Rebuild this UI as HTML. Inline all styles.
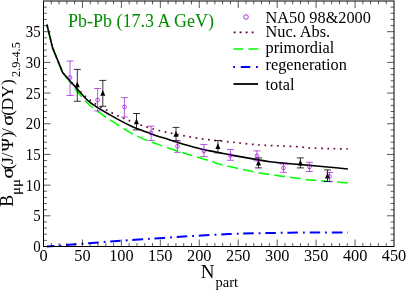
<!DOCTYPE html>
<html><head><meta charset="utf-8"><title>plot</title>
<style>
html,body{margin:0;padding:0;background:#fff;}
body{width:407px;height:291px;overflow:hidden;}
svg{display:block;will-change:transform;}
text{font-family:"Liberation Serif",serif;fill:#000;}
</style></head><body>
<svg width="407" height="291" viewBox="0 0 407 291">
<rect x="0" y="0" width="407" height="291" fill="#fff"/>

<g fill="none" stroke-linejoin="round">
<path d="M46.90,24.50 L52.60,47.90 L62.80,72.70 C63.65,73.65 65.52,75.82 67.90,78.40 C70.28,80.98 73.42,84.55 77.10,88.20 C80.78,91.85 84.52,96.35 90.00,100.30 C95.48,104.25 103.35,108.47 110.00,111.90 C116.65,115.33 123.25,118.22 129.90,120.90 C136.55,123.58 143.22,125.98 149.90,128.00 C156.58,130.02 163.33,131.52 170.00,133.00 C176.67,134.48 183.25,135.75 189.90,136.90 C196.55,138.05 203.25,139.07 209.90,139.90 C216.55,140.73 224.78,141.38 229.80,141.90 C234.82,142.42 234.98,142.48 240.00,143.00 C245.02,143.52 253.25,144.52 259.90,145.00 C266.55,145.48 273.25,145.58 279.90,145.90 C286.55,146.22 294.78,146.55 299.80,146.90 C304.82,147.25 304.98,147.72 310.00,148.00 C315.02,148.28 323.58,148.43 329.90,148.60 C336.22,148.77 344.90,148.93 347.90,149.00" stroke="#670748" stroke-width="1.7" stroke-dasharray="1.7 4.6" stroke-dashoffset="5.3"/>
<path d="M46.90,24.50 L52.50,48.00 L62.50,73.00 C63.37,74.03 65.28,76.17 67.70,79.20 C70.12,82.23 73.28,86.82 77.00,91.20 C80.72,95.58 84.50,100.72 90.00,105.50 C95.50,110.28 103.35,115.43 110.00,119.90 C116.65,124.37 125.08,129.47 129.90,132.30 C134.72,135.13 135.55,135.37 138.90,136.90 C142.25,138.43 144.82,139.57 150.00,141.50 C155.18,143.43 163.35,146.27 170.00,148.50 C176.65,150.73 183.25,152.83 189.90,154.90 C196.55,156.97 204.88,159.33 209.90,160.90 C214.92,162.47 214.98,162.97 220.00,164.30 C225.02,165.63 233.35,167.47 240.00,168.90 C246.65,170.33 253.25,171.73 259.90,172.90 C266.55,174.07 274.88,175.18 279.90,175.90 C284.92,176.62 286.65,176.75 290.00,177.20 C293.35,177.65 296.67,178.15 300.00,178.60 C303.33,179.05 305.02,179.42 310.00,179.90 C314.98,180.38 323.58,181.00 329.90,181.50 C336.22,182.00 344.90,182.67 347.90,182.90" stroke="#00ff00" stroke-width="1.55" stroke-dasharray="10.85 5.0" stroke-dashoffset="8.3"/>
<path d="M46.90,246.50 L75.00,244.30 L110.00,241.50 C116.67,241.05 136.67,239.68 150.00,238.80 C163.33,237.92 176.83,236.98 190.00,236.20 C203.17,235.42 217.33,234.60 229.00,234.10 C240.67,233.60 250.00,233.43 260.00,233.20 C270.00,232.97 279.00,232.82 289.00,232.70 C299.00,232.58 310.17,232.55 320.00,232.50 C329.83,232.45 343.33,232.42 348.00,232.40" stroke="#0000ff" stroke-width="2" stroke-dasharray="10.6 5 1.8 4.78" stroke-dashoffset="3"/>
<path d="M46.90,24.50 L52.60,47.90 L62.80,72.70 C63.65,73.67 65.52,75.80 67.90,78.50 C70.28,81.20 73.42,84.92 77.10,88.90 C80.78,92.88 84.52,98.07 90.00,102.40 C95.48,106.73 103.35,111.05 110.00,114.90 C116.65,118.75 123.23,122.42 129.90,125.50 C136.57,128.58 143.32,131.00 150.00,133.40 C156.68,135.80 163.33,137.78 170.00,139.90 C176.67,142.02 185.00,144.63 190.00,146.10 C195.00,147.57 196.67,147.90 200.00,148.70 C203.33,149.50 206.67,150.20 210.00,150.90 C213.33,151.60 216.67,152.25 220.00,152.90 C223.33,153.55 226.67,154.18 230.00,154.80 C233.33,155.42 235.00,155.72 240.00,156.60 C245.00,157.48 255.00,159.25 260.00,160.10 C265.00,160.95 266.67,161.23 270.00,161.70 C273.33,162.17 276.67,162.55 280.00,162.90 C283.33,163.25 285.00,163.38 290.00,163.80 C295.00,164.22 303.33,164.83 310.00,165.40 C316.67,165.97 323.68,166.60 330.00,167.20 C336.32,167.80 344.92,168.70 347.90,169.00" stroke="#000" stroke-width="1.6"/>
</g>
<g stroke="#000" stroke-width="0.8" fill="none">
<path d="M77.3,69.4 V101.3 M73.8,69.4 H80.8 M73.8,101.3 H80.8"/>
<path d="M77.3,81.4 L79.8,87.2 L74.8,87.2 Z" fill="#000" stroke="none"/>
<path d="M102.8,80.4 V106.3 M99.3,80.4 H106.3 M99.3,106.3 H106.3"/>
<path d="M102.8,89.9 L105.3,95.7 L100.3,95.7 Z" fill="#000" stroke="none"/>
<path d="M136.5,113.5 V129.9 M133.0,113.5 H140.0 M133.0,129.9 H140.0"/>
<path d="M136.5,118.4 L139.0,124.2 L134.0,124.2 Z" fill="#000" stroke="none"/>
<path d="M176.0,127.4 V140.5 M172.5,127.4 H179.5 M172.5,140.5 H179.5"/>
<path d="M176.0,130.9 L178.5,136.7 L173.5,136.7 Z" fill="#000" stroke="none"/>
<path d="M217.9,140.5 V152.9 M214.4,140.5 H221.4 M214.4,152.9 H221.4"/>
<path d="M217.9,143.2 L220.4,149.0 L215.4,149.0 Z" fill="#000" stroke="none"/>
<path d="M258.5,157.9 V167.9 M255.0,157.9 H262.0 M255.0,167.9 H262.0"/>
<path d="M258.5,159.8 L261.0,165.6 L256.0,165.6 Z" fill="#000" stroke="none"/>
<path d="M300.4,157.9 V167.9 M296.9,157.9 H303.9 M296.9,167.9 H303.9"/>
<path d="M300.4,159.8 L302.9,165.6 L297.9,165.6 Z" fill="#000" stroke="none"/>
<path d="M327.5,169.9 V181.5 M324.0,169.9 H331.0 M324.0,181.5 H331.0"/>
<path d="M327.5,172.8 L330.0,178.6 L325.0,178.6 Z" fill="#000" stroke="none"/>
</g>
<g stroke="#9400d3" stroke-width="0.8" stroke-opacity="0.82" fill="none">
<path d="M70.0,61.0 V95.5 M66.5,61.0 H73.5 M66.5,95.5 H73.5"/>
<circle cx="70.0" cy="77.5" r="1.9" fill="none"/>
<path d="M97.6,88.5 V110.9 M94.1,88.5 H101.1 M94.1,110.9 H101.1"/>
<circle cx="97.6" cy="100.0" r="1.9" fill="none"/>
<path d="M124.4,97.6 V117.1 M120.9,97.6 H127.9 M120.9,117.1 H127.9"/>
<circle cx="124.4" cy="106.9" r="1.9" fill="none"/>
<path d="M151.1,126.2 V140.5 M147.6,126.2 H154.6 M147.6,140.5 H154.6"/>
<circle cx="151.1" cy="132.9" r="1.9" fill="none"/>
<path d="M177.5,141.0 V152.3 M174.0,141.0 H181.0 M174.0,152.3 H181.0"/>
<circle cx="177.5" cy="146.3" r="1.9" fill="none"/>
<path d="M203.9,144.5 V156.5 M200.4,144.5 H207.4 M200.4,156.5 H207.4"/>
<circle cx="203.9" cy="150.9" r="1.9" fill="none"/>
<path d="M230.4,149.5 V160.3 M226.9,149.5 H233.9 M226.9,160.3 H233.9"/>
<circle cx="230.4" cy="155.5" r="1.9" fill="none"/>
<path d="M256.9,150.9 V160.9 M253.4,150.9 H260.4 M253.4,160.9 H260.4"/>
<circle cx="256.9" cy="155.9" r="1.9" fill="none"/>
<path d="M283.5,163.9 V172.3 M280.0,163.9 H287.0 M280.0,172.3 H287.0"/>
<circle cx="283.5" cy="167.9" r="1.9" fill="none"/>
<path d="M309.4,162.3 V171.5 M305.9,162.3 H312.9 M305.9,171.5 H312.9"/>
<circle cx="309.4" cy="166.9" r="1.9" fill="none"/>
<path d="M329.5,172.5 V181.5 M326.0,172.5 H333.0 M326.0,181.5 H333.0"/>
<circle cx="329.5" cy="176.5" r="1.9" fill="none"/>
</g>
<g stroke="#000" stroke-width="1" fill="none">
<rect x="43.5" y="1.0" width="350.5" height="245.5"/>
</g>
<path d="M51.29,246.50 v-3.4 M51.29,1.00 v3.4 M59.08,246.50 v-3.4 M59.08,1.00 v3.4 M66.87,246.50 v-3.4 M66.87,1.00 v3.4 M74.66,246.50 v-3.4 M74.66,1.00 v3.4 M82.44,246.50 v-7.0 M82.44,1.00 v7.0 M90.23,246.50 v-3.4 M90.23,1.00 v3.4 M98.02,246.50 v-3.4 M98.02,1.00 v3.4 M105.81,246.50 v-3.4 M105.81,1.00 v3.4 M113.60,246.50 v-3.4 M113.60,1.00 v3.4 M121.39,246.50 v-7.0 M121.39,1.00 v7.0 M129.18,246.50 v-3.4 M129.18,1.00 v3.4 M136.97,246.50 v-3.4 M136.97,1.00 v3.4 M144.76,246.50 v-3.4 M144.76,1.00 v3.4 M152.54,246.50 v-3.4 M152.54,1.00 v3.4 M160.33,246.50 v-7.0 M160.33,1.00 v7.0 M168.12,246.50 v-3.4 M168.12,1.00 v3.4 M175.91,246.50 v-3.4 M175.91,1.00 v3.4 M183.70,246.50 v-3.4 M183.70,1.00 v3.4 M191.49,246.50 v-3.4 M191.49,1.00 v3.4 M199.28,246.50 v-7.0 M199.28,1.00 v7.0 M207.07,246.50 v-3.4 M207.07,1.00 v3.4 M214.86,246.50 v-3.4 M214.86,1.00 v3.4 M222.64,246.50 v-3.4 M222.64,1.00 v3.4 M230.43,246.50 v-3.4 M230.43,1.00 v3.4 M238.22,246.50 v-7.0 M238.22,1.00 v7.0 M246.01,246.50 v-3.4 M246.01,1.00 v3.4 M253.80,246.50 v-3.4 M253.80,1.00 v3.4 M261.59,246.50 v-3.4 M261.59,1.00 v3.4 M269.38,246.50 v-3.4 M269.38,1.00 v3.4 M277.17,246.50 v-7.0 M277.17,1.00 v7.0 M284.96,246.50 v-3.4 M284.96,1.00 v3.4 M292.74,246.50 v-3.4 M292.74,1.00 v3.4 M300.53,246.50 v-3.4 M300.53,1.00 v3.4 M308.32,246.50 v-3.4 M308.32,1.00 v3.4 M316.11,246.50 v-7.0 M316.11,1.00 v7.0 M323.90,246.50 v-3.4 M323.90,1.00 v3.4 M331.69,246.50 v-3.4 M331.69,1.00 v3.4 M339.48,246.50 v-3.4 M339.48,1.00 v3.4 M347.27,246.50 v-3.4 M347.27,1.00 v3.4 M355.06,246.50 v-7.0 M355.06,1.00 v7.0 M362.84,246.50 v-3.4 M362.84,1.00 v3.4 M370.63,246.50 v-3.4 M370.63,1.00 v3.4 M378.42,246.50 v-3.4 M378.42,1.00 v3.4 M386.21,246.50 v-3.4 M386.21,1.00 v3.4 M43.50,240.36 h3.4 M394.00,240.36 h-3.4 M43.50,234.22 h3.4 M394.00,234.22 h-3.4 M43.50,228.09 h3.4 M394.00,228.09 h-3.4 M43.50,221.95 h3.4 M394.00,221.95 h-3.4 M43.50,215.81 h7.0 M394.00,215.81 h-7.0 M43.50,209.68 h3.4 M394.00,209.68 h-3.4 M43.50,203.54 h3.4 M394.00,203.54 h-3.4 M43.50,197.40 h3.4 M394.00,197.40 h-3.4 M43.50,191.26 h3.4 M394.00,191.26 h-3.4 M43.50,185.12 h7.0 M394.00,185.12 h-7.0 M43.50,178.99 h3.4 M394.00,178.99 h-3.4 M43.50,172.85 h3.4 M394.00,172.85 h-3.4 M43.50,166.71 h3.4 M394.00,166.71 h-3.4 M43.50,160.57 h3.4 M394.00,160.57 h-3.4 M43.50,154.44 h7.0 M394.00,154.44 h-7.0 M43.50,148.30 h3.4 M394.00,148.30 h-3.4 M43.50,142.16 h3.4 M394.00,142.16 h-3.4 M43.50,136.02 h3.4 M394.00,136.02 h-3.4 M43.50,129.89 h3.4 M394.00,129.89 h-3.4 M43.50,123.75 h7.0 M394.00,123.75 h-7.0 M43.50,117.61 h3.4 M394.00,117.61 h-3.4 M43.50,111.47 h3.4 M394.00,111.47 h-3.4 M43.50,105.34 h3.4 M394.00,105.34 h-3.4 M43.50,99.20 h3.4 M394.00,99.20 h-3.4 M43.50,93.06 h7.0 M394.00,93.06 h-7.0 M43.50,86.92 h3.4 M394.00,86.92 h-3.4 M43.50,80.79 h3.4 M394.00,80.79 h-3.4 M43.50,74.65 h3.4 M394.00,74.65 h-3.4 M43.50,68.51 h3.4 M394.00,68.51 h-3.4 M43.50,62.38 h7.0 M394.00,62.38 h-7.0 M43.50,56.24 h3.4 M394.00,56.24 h-3.4 M43.50,50.10 h3.4 M394.00,50.10 h-3.4 M43.50,43.96 h3.4 M394.00,43.96 h-3.4 M43.50,37.82 h3.4 M394.00,37.82 h-3.4 M43.50,31.69 h7.0 M394.00,31.69 h-7.0 M43.50,25.55 h3.4 M394.00,25.55 h-3.4 M43.50,19.41 h3.4 M394.00,19.41 h-3.4 M43.50,13.28 h3.4 M394.00,13.28 h-3.4 M43.50,7.14 h3.4 M394.00,7.14 h-3.4" stroke="#000" stroke-width="0.65" fill="none"/>
<text x="43.5" y="261" font-size="16.3" text-anchor="middle">0</text>
<text x="82.4" y="261" font-size="16.3" text-anchor="middle">50</text>
<text x="121.4" y="261" font-size="16.3" text-anchor="middle">100</text>
<text x="160.3" y="261" font-size="16.3" text-anchor="middle">150</text>
<text x="199.3" y="261" font-size="16.3" text-anchor="middle">200</text>
<text x="238.2" y="261" font-size="16.3" text-anchor="middle">250</text>
<text x="277.2" y="261" font-size="16.3" text-anchor="middle">300</text>
<text x="316.1" y="261" font-size="16.3" text-anchor="middle">350</text>
<text x="355.1" y="261" font-size="16.3" text-anchor="middle">400</text>
<text x="394.0" y="261" font-size="16.3" text-anchor="middle">450</text>
<text transform="translate(40.7,252.0) scale(0.93,1)" font-size="16" text-anchor="end">0</text>
<text transform="translate(40.7,221.3) scale(0.93,1)" font-size="16" text-anchor="end">5</text>
<text transform="translate(40.7,190.6) scale(0.93,1)" font-size="16" text-anchor="end">10</text>
<text transform="translate(40.7,159.9) scale(0.93,1)" font-size="16" text-anchor="end">15</text>
<text transform="translate(40.7,129.2) scale(0.93,1)" font-size="16" text-anchor="end">20</text>
<text transform="translate(40.7,98.6) scale(0.93,1)" font-size="16" text-anchor="end">25</text>
<text transform="translate(40.7,67.9) scale(0.93,1)" font-size="16" text-anchor="end">30</text>
<text transform="translate(40.7,37.2) scale(0.93,1)" font-size="16" text-anchor="end">35</text>
<text x="200.8" y="277.9" font-size="19">N</text><text x="215.6" y="286.8" font-size="14.5">part</text>
<g transform="translate(13.4,207.5) rotate(-90)">
<text transform="translate(0.7,0.0) scale(1.000,1)" font-size="17.8" stroke="#000" stroke-width="0.00">B</text>
<text transform="translate(12.6,6.6) scale(1.220,1)" font-size="12.2" stroke="#000" stroke-width="0.15">μμ</text>
<text transform="translate(29.0,0.0) scale(1.150,1)" font-size="17.5" stroke="#000" stroke-width="0.20">σ</text>
<text transform="translate(38.0,0.0) scale(1.000,1)" font-size="17.5" stroke="#000" stroke-width="0.00">(</text>
<text transform="translate(43.6,0.0) scale(1.000,1)" font-size="17.5" stroke="#000" stroke-width="0.00">J</text>
<text transform="translate(50.0,0.0) scale(1.000,1)" font-size="17.5" stroke="#000" stroke-width="0.00">/</text>
<text transform="translate(56.3,0.0) scale(1.020,1)" font-size="17.5" stroke="#000" stroke-width="0.15">Ψ</text>
<text transform="translate(69.9,0.0) scale(1.000,1)" font-size="17.5" stroke="#000" stroke-width="0.00">)</text>
<text transform="translate(74.6,0.0) scale(1.000,1)" font-size="17.5" stroke="#000" stroke-width="0.00">/</text>
<text transform="translate(81.8,0.0) scale(1.150,1)" font-size="17.5" stroke="#000" stroke-width="0.20">σ</text>
<text transform="translate(91.8,0.0) scale(1.000,1)" font-size="17.5" stroke="#000" stroke-width="0.00">(</text>
<text transform="translate(97.0,0.0) scale(1.000,1)" font-size="17.5" stroke="#000" stroke-width="0.00">D</text>
<text transform="translate(109.4,0.0) scale(1.000,1)" font-size="17.5" stroke="#000" stroke-width="0.00">Y</text>
<text transform="translate(122.6,0.0) scale(1.000,1)" font-size="17.5" stroke="#000" stroke-width="0.00">)</text>
<text transform="translate(130.5,6.9) scale(1.000,1)" font-size="12.3" stroke="#000" stroke-width="0.00">2.9-4.5</text>
</g>
<text x="68" y="27.2" font-size="18" style="fill:#008b00">Pb-Pb (17.3 A GeV)</text>
<circle cx="246" cy="17" r="2.3" stroke="#9400d3" stroke-width="0.8" fill="none"/>
<path d="M233.6,32.4 H254" stroke="#670748" stroke-width="1.7" stroke-dasharray="2 4" fill="none"/>
<path d="M233.4,49 H258.5" stroke="#00ff00" stroke-width="1.7" stroke-dasharray="10 5" fill="none"/>
<path d="M233.2,67 H258" stroke="#0000ff" stroke-width="2" stroke-dasharray="1.8 5.8 9.4 5.8" fill="none"/>
<path d="M233.4,84 H258" stroke="#000" stroke-width="1.8" fill="none"/>
<text x="265.5" y="22.8" font-size="16.3">NA50 98&amp;2000</text>
<text x="265.5" y="36.5" font-size="16.3">Nuc. Abs.</text>
<text x="265.5" y="52.8" font-size="16.3">primordial</text>
<text x="265.5" y="70.1" font-size="16.3">regeneration</text>
<text x="265.5" y="89.6" font-size="16.3">total</text>
</svg></body></html>
